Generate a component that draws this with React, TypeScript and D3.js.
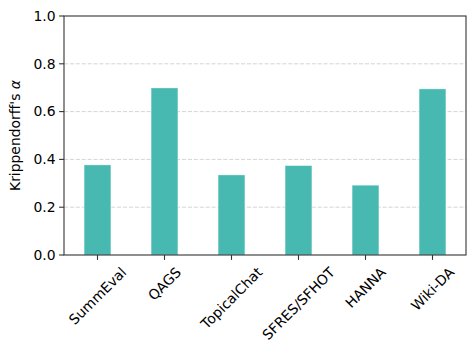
import React, { useEffect, useRef } from "react";
import * as d3 from "d3";

const categories = ["SummEval", "QAGS", "TopicalChat", "SFRES/SFHOT", "HANNA", "Wiki-DA"];
const alphaValues = [0.377, 0.699, 0.335, 0.374, 0.292, 0.695];
const yTicks = [0.0, 0.2, 0.4, 0.6, 0.8, 1.0];
const gridTicks = [0.2, 0.4, 0.6, 0.8];

const W = 476;
const H = 355;
const M = { left: 64, right: 466, top: 16, bottom: 255 };
const FONT = "'DejaVu Sans', sans-serif";
const FS = 13.9;

export default function App() {
  const ref = useRef<SVGSVGElement | null>(null);

  useEffect(() => {
    const svg = d3.select(ref.current);
    svg.selectAll("*").remove();

    const x = d3
      .scaleBand<string>()
      .domain(categories)
      .range([M.left, M.right])
      .paddingInner(0.6)
      .paddingOuter(0.3);
    const y = d3.scaleLinear().domain([0, 1]).range([M.bottom, M.top]);

    svg.append("rect").attr("x", 0).attr("y", 0).attr("width", W).attr("height", H).attr("fill", "#fff");

    // grid
    svg
      .append("g")
      .selectAll("line")
      .data(gridTicks)
      .join("line")
      .attr("x1", M.left)
      .attr("x2", M.right)
      .attr("y1", (d) => y(d))
      .attr("y2", (d) => y(d))
      .attr("stroke", "#b0b0b0")
      .attr("stroke-opacity", 0.6)
      .attr("stroke-width", 0.9)
      .attr("stroke-dasharray", "4.1,1.8");

    // bars
    svg
      .append("g")
      .selectAll("rect")
      .data(categories)
      .join("rect")
      .attr("x", (d) => x(d)!)
      .attr("width", x.bandwidth())
      .attr("y", (_d, i) => y(alphaValues[i]))
      .attr("height", (_d, i) => y(0) - y(alphaValues[i]))
      .attr("fill", "#48b9b1")
      .attr("stroke", "rgba(255,255,255,0.45)")
      .attr("stroke-width", 0.8);

    // spines
    svg
      .append("rect")
      .attr("x", M.left)
      .attr("y", M.top)
      .attr("width", M.right - M.left)
      .attr("height", M.bottom - M.top)
      .attr("fill", "none")
      .attr("stroke", "#333")
      .attr("stroke-width", 1.1);

    // y ticks
    const yg = svg.append("g");
    yTicks.forEach((t) => {
      yg.append("line")
        .attr("x1", M.left - 4.9)
        .attr("x2", M.left)
        .attr("y1", y(t))
        .attr("y2", y(t))
        .attr("stroke", "#333")
        .attr("stroke-width", 1.1);
      yg.append("text")
        .attr("x", M.left - 8.5)
        .attr("y", y(t))
        .attr("dy", "0.35em")
        .attr("text-anchor", "end")
        .attr("font-family", FONT)
        .attr("font-size", FS)
        .attr("fill", "#000")
        .text(t.toFixed(1));
    });

    // x ticks and rotated labels
    const xg = svg.append("g");
    categories.forEach((c) => {
      const cx = x(c)! + x.bandwidth() / 2;
      xg.append("line")
        .attr("x1", cx)
        .attr("x2", cx)
        .attr("y1", M.bottom)
        .attr("y2", M.bottom + 4.9)
        .attr("stroke", "#333")
        .attr("stroke-width", 1.1);
      const txt = xg
        .append("text")
        .attr("text-anchor", "middle")
        .attr("dominant-baseline", "central")
        .attr("font-family", FONT)
        .attr("font-size", FS)
        .attr("fill", "#000")
        .text(c);
      const w = (txt.node() as SVGTextElement).getComputedTextLength();
      const h = FS * 1.16;
      const half = (w + h) / (2 * Math.SQRT2);
      const top = M.bottom + 9;
      txt.attr("transform", `translate(${cx},${top + half}) rotate(-45)`);
    });

    // y label
    const lab = svg
      .append("text")
      .attr("transform", `translate(20,${(M.top + M.bottom) / 2}) rotate(-90)`)
      .attr("text-anchor", "middle")
      .attr("font-family", FONT)
      .attr("font-size", FS)
      .attr("fill", "#000");
    lab.append("tspan").text("Krippendorff's ");
    lab.append("tspan").attr("font-style", "italic").text("α");
  }, []);

  return (
    <svg
      ref={ref}
      width={W}
      height={H}
      style={{ position: "absolute", left: 0, top: 0, display: "block" }}
    />
  );
}
